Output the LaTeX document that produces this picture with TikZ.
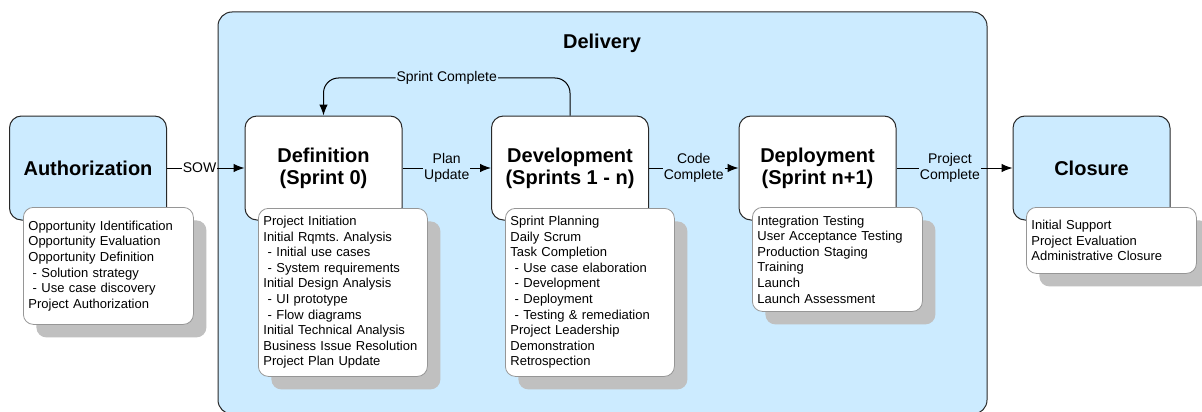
\documentclass[tikz,border=0pt]{standalone}
\usepackage{fontspec}
\setmainfont{Liberation Sans}
\frenchspacing
\usetikzlibrary{arrows.meta,shadows}
\definecolor{phaseblue}{RGB}{204,235,255}
\definecolor{shadegray}{RGB}{192,192,192}
\definecolor{listedge}{RGB}{150,150,150}
\definecolor{boxedge}{RGB}{40,40,40}
\tikzset{
  container/.style={draw=boxedge, line width=1pt, fill=phaseblue, rounded corners=14pt},
  phase/.style={draw=boxedge, line width=1pt, rounded corners=12pt,
    minimum width=157pt, minimum height=104pt, inner sep=0pt,
    align=center, font=\fontsize{20}{22}\selectfont\bfseries},
  outer/.style={phase, fill=phaseblue},
  inner/.style={phase, fill=white},
  tasklist/.style={draw=listedge, line width=0.8pt, fill=white, rounded corners=10pt,
    anchor=north west, inner xsep=5pt, inner ysep=0pt, align=left,
    font=\fontsize{13}{15.6}\selectfont,
    drop shadow={shadow xshift=13pt, shadow yshift=-13pt, fill=shadegray, opacity=1, draw=none}},
  flow/.style={draw=black, line width=1pt, -{Latex[length=11pt,width=8.5pt]}},
  tag/.style={font=\fontsize{14}{16.5}\selectfont, align=center, inner sep=1pt}
}
\begin{document}
\begin{tikzpicture}[x=1pt, y=-1pt]
\useasboundingbox (0,0) rectangle (1202,412);
\fill[white] (0,0) rectangle (1202,412);

% Delivery frame
\draw[container] (218,12) rectangle (987,414);
\node[font=\fontsize{20}{22}\selectfont\bfseries] (deliv) at (602,43) {Delivery};

% phase boxes
\node[outer] (auth) at (88,168) {Authorization};
\node[inner] (defn) at (323.5,168) {Definition\\(Sprint 0)};
\node[inner] (devl) at (570,168) {Development\\(Sprints 1 - n)};
\node[inner] (depl) at (817.5,168) {Deployment\\(Sprint n+1)};
\node[outer] (clos) at (1091.5,168) {Closure};

% activity lists
\node[tasklist, text width=160pt, minimum height=117pt] (authL) at (23,207)
  {Opportunity Identification\\Opportunity Evaluation\\Opportunity Definition\\
   \ - Solution strategy\\\ - Use case discovery\\Project Authorization};
\node[tasklist, text width=159pt, minimum height=168pt] (defnL) at (258,208)
  {Project Initiation\\Initial Rqmts. Analysis\\\ - Initial use cases\\\ - System requirements\\
   Initial Design Analysis\\\ - UI prototype\\\ - Flow diagrams\\Initial Technical Analysis\\
   Business Issue Resolution\\Project Plan Update};
\node[tasklist, text width=159pt, minimum height=168pt] (devlL) at (505,208)
  {Sprint Planning\\Daily Scrum\\Task Completion\\\ - Use case elaboration\\\ - Development\\
   \ - Deployment\\\ - Testing \& remediation\\Project Leadership\\Demonstration\\Retrospection};
\node[tasklist, text width=160pt, minimum height=104pt] (deplL) at (752,207)
  {Integration Testing\\User Acceptance Testing\\Production Staging\\Training\\Launch\\Launch Assessment};
\node[tasklist, text width=160pt, minimum height=66pt] (closL) at (1026,207)
  {Initial Support\\Project Evaluation\\Administrative Closure};

% hand-offs between phases
\draw[flow] (auth.east) -- node[tag, fill=white, pos=0.42] (sow) {SOW} (defn.west);
\draw[flow] (defn.east) -- node[tag, fill=phaseblue] (plan) {Plan\\Update} (devl.west);
\draw[flow] (devl.east) -- node[tag, fill=phaseblue] (code) {Code\\Complete} (depl.west);
\draw[flow] (depl.east) -- node[tag, fill=phaseblue, pos=0.46] (proj) {Project\\Complete} (clos.west);

% sprint loop
\coordinate (loopR) at (devl.north |- 0,78);
\coordinate (loopL) at (defn.north |- 0,78);
\draw[flow, rounded corners=15pt] (devl.north) -- (loopR) --
  node[tag, fill=phaseblue, pos=0.5] (sprint) {Sprint Complete} (loopL) -- (defn.north);
\end{tikzpicture}
\end{document}
